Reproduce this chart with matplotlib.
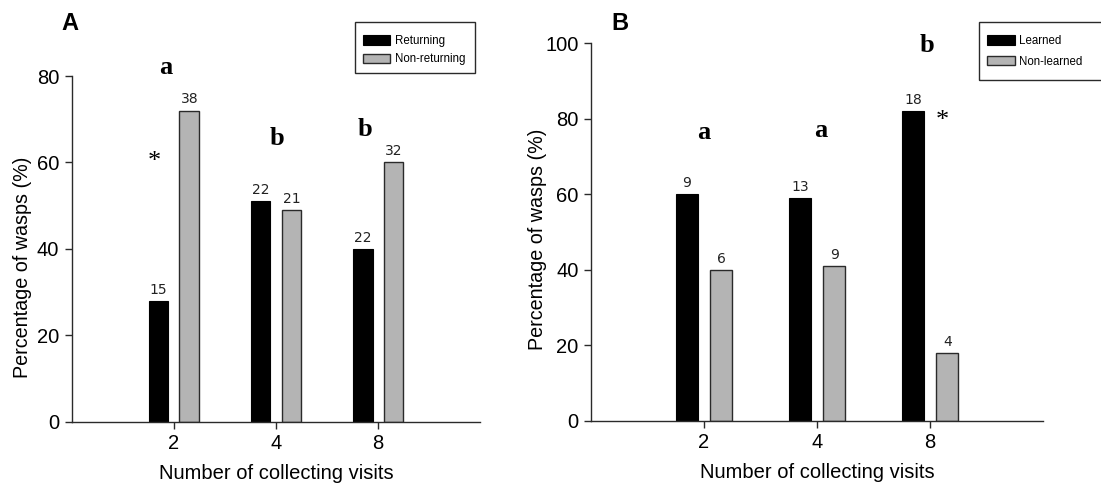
import numpy as np
import matplotlib
matplotlib.use("Agg")
import matplotlib.pyplot as plt
from matplotlib.patches import Rectangle

# datos
visitas = ["2", "4", "8"]

returning = [28, 51, 40]
non_returning = [72, 49, 60]
n_returning = [15, 22, 22]
n_non_returning = [38, 21, 32]

learned = [60, 59, 82]
non_learned = [40, 41, 18]
n_learned = [9, 13, 18]
n_non_learned = [6, 9, 4]

letras_A = ["a", "b", "b"]
letras_B = ["a", "a", "b"]

plt.rcParams["font.family"] = ["Liberation Sans", "DejaVu Sans"]

NEGRO = "#000000"
GRIS = "#b4b4b4"
BORDE = "#2a2a2a"
SERIF = ["Liberation Serif", "DejaVu Serif"]
NARROW = ["Liberation Sans Narrow", "DejaVu Sans Condensed", "Liberation Sans"]


def panel(ax, serie1, serie2, n1, n2, ymax):
    x = np.arange(len(visitas))
    b1 = ax.bar(x - 0.15, serie1, width=0.195, color=NEGRO, edgecolor=NEGRO, linewidth=0.8)
    b2 = ax.bar(x + 0.153, serie2, width=0.195, color=GRIS, edgecolor=BORDE, linewidth=1.0)

    # numero de avispas sobre cada barra
    for barras, ns in ((b1, n1), (b2, n2)):
        for rect, n in zip(barras, ns):
            ax.annotate(str(n), (rect.get_x() + rect.get_width() / 2, rect.get_height()),
                        xytext=(0, 3), textcoords="offset points", ha="center", va="bottom",
                        fontsize=10, family="DejaVu Sans", color="#222222")

    ax.set_xlim(-1, 3)
    ax.set_ylim(0, ymax)
    ax.set_xticks(x, visitas)
    ax.set_yticks(np.arange(0, ymax + 1, 20))
    for s in ("top", "right"):
        ax.spines[s].set_visible(False)
    for s in ("left", "bottom"):
        ax.spines[s].set_linewidth(1.0)
        ax.spines[s].set_color(BORDE)
    ax.tick_params(direction="out", length=5, width=1, color=BORDE, labelsize=14.5, pad=4)
    ax.set_xlabel("Number of collecting visits", fontsize=14.5, labelpad=8)
    ax.set_ylabel("Percentage of wasps (%)", fontsize=14.2)
    return b1, b2


fig = plt.figure(figsize=(11.01, 4.86), dpi=100)
W, H = 1101, 486
axA = fig.add_axes([71.7 / W, (H - 421.7) / H, (480 - 71.7) / W, (421.7 - 76) / H])
axB = fig.add_axes([591 / W, (H - 420.7) / H, (1043 - 591) / W, (420.7 - 43.3) / H])

a1, a2 = panel(axA, returning, non_returning, n_returning, n_non_returning, 80)
c1, c2 = panel(axB, learned, non_learned, n_learned, n_non_learned, 100)
axA.yaxis.set_label_coords(-40 / 408.3, 0.447)
axB.yaxis.set_label_coords(-44 / 452.0, 0.48)

# letras de significancia y asteriscos
for txt, (xx, yy) in zip(letras_A, [(-0.08, 81.9), (1.01, 65.6), (1.87, 67.7)]):
    axA.text(xx, yy, txt, ha="center", va="center", fontsize=19, fontweight="bold",
             family=SERIF, clip_on=False)
axA.text(-0.19, 60, "*", ha="center", va="center", fontsize=19, family=SERIF)

for txt, (xx, yy) in zip(letras_B, [(0.0, 76.3), (1.03, 77.0), (1.97, 99.5)]):
    axB.text(xx, yy, txt, ha="center", va="center", fontsize=19, fontweight="bold",
             family=SERIF, clip_on=False)
axB.text(2.11, 79.5, "*", ha="center", va="center", fontsize=19, family=SERIF)

# etiquetas de panel
fig.text(70 / W, 1 - 23 / H, "A", ha="center", va="center", fontsize=17, fontweight="bold")
fig.text(620 / W, 1 - 24 / H, "B", ha="center", va="center", fontsize=17, fontweight="bold")

# leyendas: caja dibujada aparte para controlar margenes
for handles, labels, x0, y0, sep, caja in (
        ((a1, a2), ("Returning", "Non-returning"), 362.7, 35, 0.55, (355, 22, 120, 51)),
        ((c1, c2), ("Learned", "Non-learned"), 987, 35, 0.75, (979, 22, 140, 58))):
    fig.legend(handles, labels, loc="upper left",
               bbox_to_anchor=(x0 / W, 1 - y0 / H), bbox_transform=fig.transFigure,
               frameon=False, prop={"family": NARROW, "size": 8.3},
               handlelength=2.4, handleheight=0.85, handletextpad=0.4,
               labelspacing=sep, borderpad=0, borderaxespad=0)
    cx, cy, cw, ch = caja
    fig.patches.append(Rectangle((cx / W, 1 - (cy + ch) / H), cw / W, ch / H,
                                 transform=fig.transFigure, fill=False,
                                 edgecolor=BORDE, linewidth=1.0))

fig.savefig("out.png", dpi=100)
